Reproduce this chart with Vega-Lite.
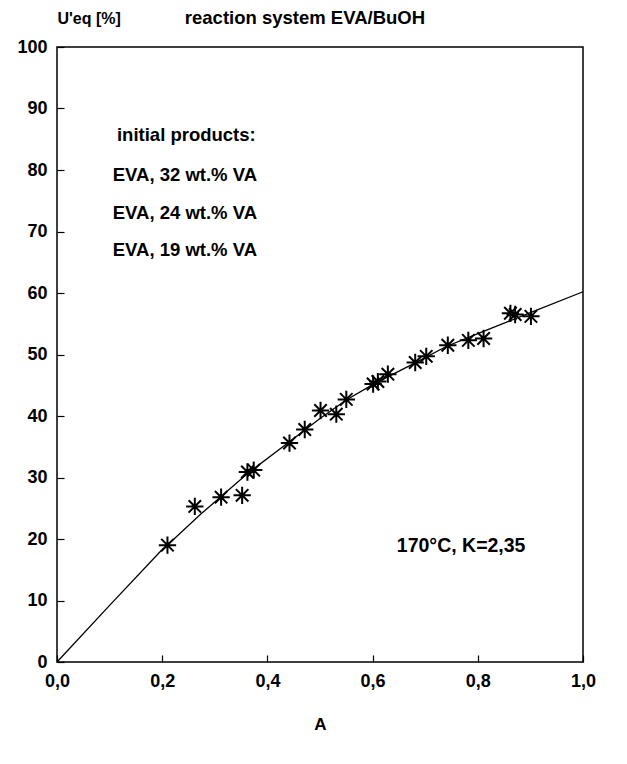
{
  "$schema": "https://vega.github.io/schema/vega-lite/v6.json",
  "autosize": "none",
  "width": 526,
  "height": 615,
  "padding": {"left": 57, "top": 47, "right": 44, "bottom": 102},
  "background": "white",
  "config": {
    "view": {"stroke": "black", "strokeWidth": 1.5},
    "font": "Liberation Sans",
    "axis": {"grid": false, "domain": false, "labelFlush": false, "labelOverlap": false, "labelFont": "Liberation Sans", "labelFontWeight": "bold", "labelFontSize": 18, "labelColor": "black", "tickColor": "black", "tickWidth": 1.2, "titleFont": "Liberation Sans", "titleFontWeight": "bold", "titleFontSize": 17, "titleColor": "black"}
  },
  "datasets": {
    "points": [
      {"A": 0.21, "U": 19.0},
      {"A": 0.262, "U": 25.3},
      {"A": 0.312, "U": 26.8},
      {"A": 0.352, "U": 27.1},
      {"A": 0.362, "U": 30.9},
      {"A": 0.374, "U": 31.2},
      {"A": 0.442, "U": 35.6},
      {"A": 0.471, "U": 37.8},
      {"A": 0.501, "U": 40.9},
      {"A": 0.531, "U": 40.3},
      {"A": 0.55, "U": 42.7},
      {"A": 0.601, "U": 45.2},
      {"A": 0.61, "U": 45.6},
      {"A": 0.629, "U": 46.8},
      {"A": 0.681, "U": 48.7},
      {"A": 0.702, "U": 49.7},
      {"A": 0.743, "U": 51.5},
      {"A": 0.782, "U": 52.3},
      {"A": 0.811, "U": 52.6},
      {"A": 0.862, "U": 56.7},
      {"A": 0.871, "U": 56.5},
      {"A": 0.901, "U": 56.2}
    ],
    "curve": [
      {"A": 0.0, "U": 0.0},
      {"A": 0.1, "U": 9.2},
      {"A": 0.2, "U": 18.3},
      {"A": 0.226, "U": 20.3},
      {"A": 0.274, "U": 24.1},
      {"A": 0.312, "U": 26.9},
      {"A": 0.36, "U": 30.5},
      {"A": 0.44, "U": 35.7},
      {"A": 0.5, "U": 39.6},
      {"A": 0.55, "U": 42.6},
      {"A": 0.6, "U": 45.1},
      {"A": 0.68, "U": 48.6},
      {"A": 0.74, "U": 51.3},
      {"A": 0.8, "U": 53.4},
      {"A": 0.856, "U": 55.3},
      {"A": 0.9, "U": 56.8},
      {"A": 1.0, "U": 60.2}
    ],
    "notes": [
      {"A": 0.114, "U": 85.7, "label": "initial products:"},
      {"A": 0.106, "U": 79.2, "label": "EVA, 32 wt.% VA"},
      {"A": 0.106, "U": 73.0, "label": "EVA, 24 wt.% VA"},
      {"A": 0.106, "U": 67.0, "label": "EVA, 19 wt.% VA"},
      {"A": 0.243, "U": 104.7, "label": "reaction system EVA/BuOH"}
    ],
    "cond": [
      {"A": 0.646, "U": 18.9, "label": "170°C, K=2,35"}
    ]
  },
  "encoding": {
    "x": {"field": "A", "type": "quantitative", "scale": {"domain": [0, 1], "nice": false, "zero": false},
      "axis": {"values": [0, 0.2, 0.4, 0.6, 0.8, 1.0], "labelExpr": "replace(format(datum.value, '.1f'), '.', ',')", "tickSize": -7, "labelPadding": 17, "title": "A", "titlePadding": 26}},
    "y": {"field": "U", "type": "quantitative", "scale": {"domain": [0, 100], "nice": false},
      "axis": {"values": [0, 10, 20, 30, 40, 50, 60, 70, 80, 90, 100], "tickSize": -7, "labelPadding": 17, "title": "U'eq [%]", "titleAngle": 0, "titleAlign": "left", "titleBaseline": "middle", "titleX": 0, "titleY": -29, "titleFontSize": 16}}
  },
  "layer": [
    {"data": {"name": "curve"}, "mark": {"type": "line", "color": "black", "strokeWidth": 1.3}},
    {"data": {"name": "points"}, "mark": {"type": "point", "shape": "M-1,0L1,0M0,-1L0,1M-0.72,-0.72L0.72,0.72M-0.72,0.72L0.72,-0.72", "filled": false, "stroke": "black", "strokeWidth": 2, "size": 300, "opacity": 1}},
    {"data": {"name": "notes"}, "mark": {"type": "text", "align": "left", "baseline": "middle", "fontSize": 18.5, "fontWeight": "bold", "font": "Liberation Sans", "color": "black"}, "encoding": {"text": {"field": "label"}}},
    {"data": {"name": "cond"}, "mark": {"type": "text", "align": "left", "baseline": "middle", "fontSize": 19.5, "fontWeight": "bold", "font": "Liberation Sans", "color": "black"}, "encoding": {"text": {"field": "label"}}}
  ]
}
